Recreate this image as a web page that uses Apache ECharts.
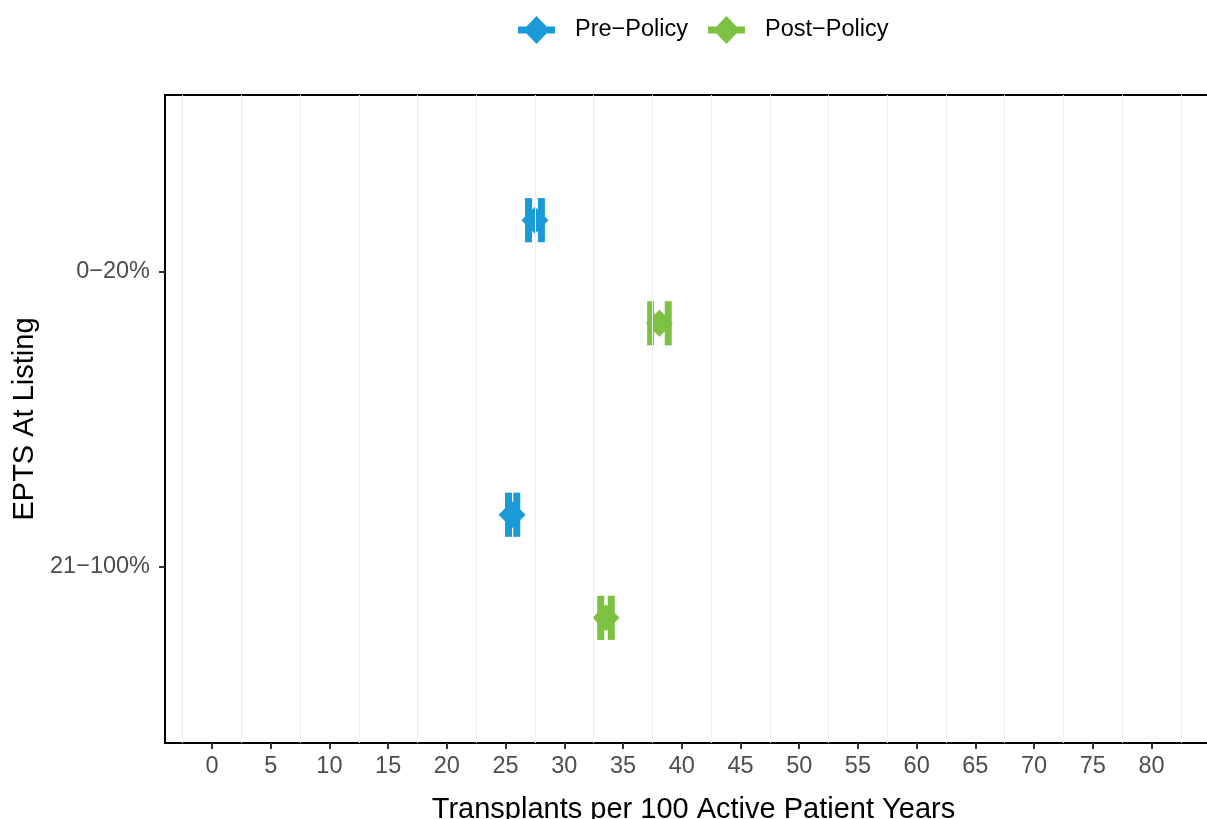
<!DOCTYPE html>
<html><head><meta charset="utf-8">
<script src="https://cdn.jsdelivr.net/npm/echarts@6/dist/echarts.min.js"></script>
<style>html,body{margin:0;padding:0;background:#fff}#c{width:1207px;height:819px}</style>
</head><body><div id="c"></div>
<script>
// ---- data ----
const categories = ['0−20%', '21−100%'];
const categoryPos = [2, 1];
const seriesNames = ['Pre−Policy', 'Post−Policy'];
const preEstimate = [27.5, 25.55];
const preLower = [26.95, 25.25];
const preUpper = [28.05, 25.95];
const postEstimate = [38.1, 33.55];
const postLower = [37.35, 33.1];
const postUpper = [38.85, 34.0];
const xTicks = [0, 5, 10, 15, 20, 25, 30, 35, 40, 45, 50, 55, 60, 65, 70, 75, 80];
const xGridLines = [-2.5, 2.5, 7.5, 12.5, 17.5, 22.5, 27.5, 32.5, 37.5, 42.5, 47.5, 52.5, 57.5, 62.5, 67.5, 72.5, 77.5, 82.5];

// ---- styling ----
const colors = ['#1A9AD6', '#7DC142'];
const dodge = [0.175, -0.175];
const FONT = '"Liberation Sans", Arial, Helvetica, sans-serif';
const legendIcon = 'path://M0,10.5 L8.5,10.5 L18.5,0 L28.5,10.5 L37,10.5 L37,17.5 L28.5,17.5 L18.5,28 L8.5,17.5 L0,17.5 Z';

const groups = [
  { est: preEstimate, lo: preLower, hi: preUpper },
  { est: postEstimate, lo: postLower, hi: postUpper }
];

const series = [{
  type: 'scatter', data: [], z: 1, silent: true,
  markLine: {
    silent: true, symbol: 'none', animation: false,
    label: { show: false },
    lineStyle: { color: '#EEEEEE', width: 1, type: 'solid' },
    data: xGridLines.map(v => ({ xAxis: v }))
  }
}];

groups.forEach((g, gi) => {
  const color = colors[gi];
  const errData = g.est.map((e, i) => [e, g.lo[i], g.hi[i], categoryPos[i] + dodge[gi]]);
  series.push({
    name: seriesNames[gi], type: 'custom', z: 3,
    encode: { x: [1, 2], y: 3 },
    data: errData,
    itemStyle: { color: color },
    renderItem: function (params, api) {
      const y = api.value(3);
      const a = api.coord([api.value(1), y]);
      const b = api.coord([api.value(2), y]);
      const h = api.size([0, 0.075])[1];
      const st = { stroke: color, lineWidth: 7, lineCap: 'butt' };
      return { type: 'group', children: [
        { type: 'line', shape: { x1: a[0], y1: a[1], x2: b[0], y2: b[1] }, style: st },
        { type: 'line', shape: { x1: a[0], y1: a[1] - h, x2: a[0], y2: a[1] + h }, style: st },
        { type: 'line', shape: { x1: b[0], y1: b[1] - h, x2: b[0], y2: b[1] + h }, style: st }
      ]};
    }
  });
  series.push({
    name: seriesNames[gi], type: 'scatter', z: 4,
    symbol: 'diamond', symbolSize: 27,
    itemStyle: { color: color, opacity: 1 },
    data: g.est.map((e, i) => [e, categoryPos[i] + dodge[gi]])
  });
});

const chart = echarts.init(document.getElementById('c'), null, { renderer: 'canvas' });
chart.setOption({
  animation: false,
  backgroundColor: '#fff',
  textStyle: { fontFamily: FONT },
  color: colors,
  legend: {
    left: 513, top: 11,
    itemWidth: 37, itemHeight: 28, itemGap: 20,
    data: seriesNames.map((n, i) => ({ name: n, icon: legendIcon, itemStyle: { color: colors[i] } })),
    textStyle: { fontSize: 23.5, color: '#000', fontFamily: FONT, padding: [0, 0, 0, 15] },
    selectedMode: false
  },
  grid: {
    left: 165, top: 95, width: 1057, height: 648,
    containLabel: false, outerBoundsMode: 'none',
    show: true, borderColor: '#000', borderWidth: 2, backgroundColor: 'transparent'
  },
  xAxis: {
    type: 'value', min: -4, max: 86,
    name: 'Transplants per 100 Active Patient Years',
    nameLocation: 'middle', nameGap: 52,
    nameTextStyle: { fontSize: 29, color: '#000', fontFamily: FONT },
    axisLine: { show: false, onZero: false },
    axisTick: { show: true, customValues: xTicks, length: 6, lineStyle: { color: '#333', width: 2 } },
    axisLabel: { customValues: xTicks, fontSize: 23.5, color: '#4D4D4D', margin: 12, fontFamily: FONT },
    splitLine: { show: false }
  },
  yAxis: {
    type: 'value', min: 0.4, max: 2.6,
    name: 'EPTS At Listing',
    nameLocation: 'middle', nameGap: 122, nameRotate: 90,
    nameTextStyle: { fontSize: 29, color: '#000', fontFamily: FONT },
    axisLine: { show: false, onZero: false },
    axisTick: { show: true, customValues: categoryPos, length: 6, lineStyle: { color: '#333', width: 2 } },
    axisLabel: {
      customValues: categoryPos, fontSize: 23.5, color: '#4D4D4D', margin: 15, fontFamily: FONT,
      formatter: v => categories[categoryPos.indexOf(v)]
    },
    splitLine: { show: false }
  },
  series: series
});
</script>
</body></html>
